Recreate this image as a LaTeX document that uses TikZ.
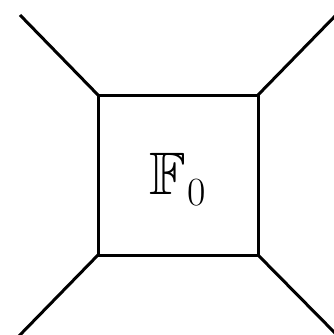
\documentclass[tikz,border=0pt]{standalone}
\usepackage{amsmath}
\usepackage{amssymb}
\usepackage{tikz}

\begin{document}
\begin{tikzpicture}[
    x=1pt, y=-1pt,
    every node/.style={font=\fontsize{60}{60}\selectfont},
    face/.style={
        draw=black,
        line width=3pt,
        minimum size=160pt,
        inner sep=0pt,
        outer sep=0pt,
        text height=49pt,
        text depth=11pt
    },
    leg/.style={line width=3pt}
]

\useasboundingbox (0,0) rectangle (334,335);

\node[face] (face) at (178,175)
    {$\mathbb{F}$\kern1pt\raisebox{-11pt}{\fontsize{40}{40}\selectfont 0}};

\coordinate (tl) at (20,15);
\coordinate (tr) at (338,13);
\coordinate (bl) at (18,337);
\coordinate (br) at (336,334);

\draw[leg] (face.north west) -- (tl);
\draw[leg] (face.north east) -- (tr);
\draw[leg] (face.south west) -- (bl);
\draw[leg] (face.south east) -- (br);

\end{tikzpicture}
\end{document}
